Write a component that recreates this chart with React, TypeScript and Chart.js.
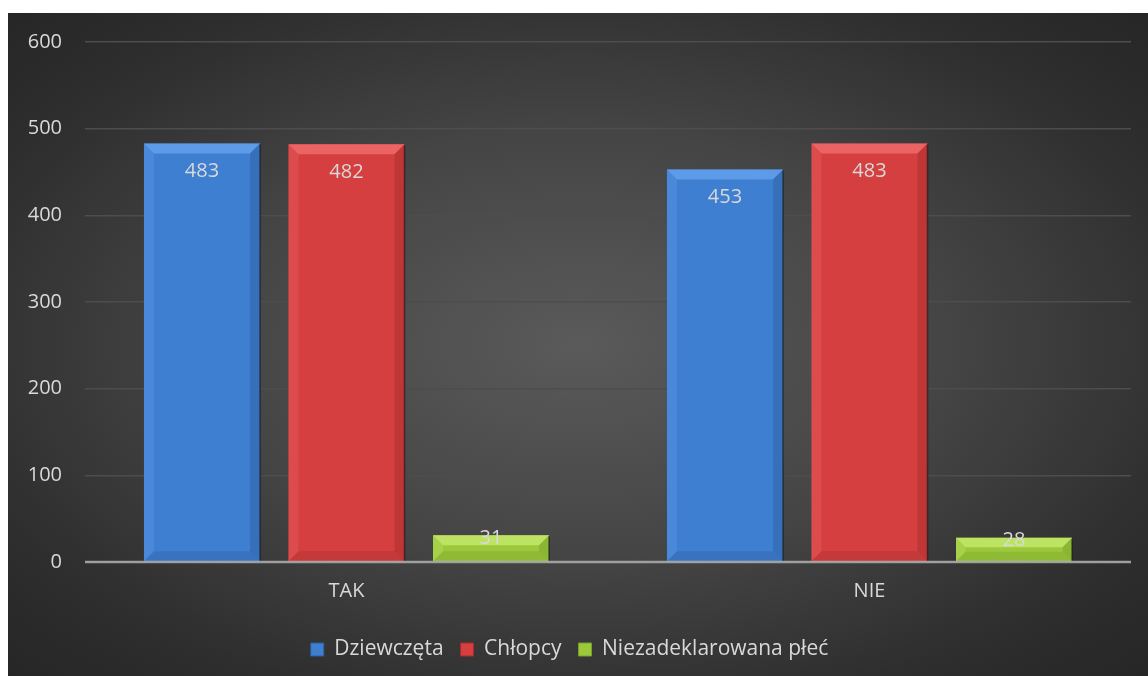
import React, { useEffect, useRef } from "react";
import { Chart, registerables } from "chart.js";

Chart.register(...registerables);

const categories = ["TAK", "NIE"];
const seriesNames = ["Dziewczęta", "Chłopcy", "Niezadeklarowana płeć"];
const dziewczeta = [483, 453];
const chlopcy = [482, 483];
const niezadeklarowana = [31, 28];
const yTicks = [0, 100, 200, 300, 400, 500, 600];

const baseColors = ["#3f7fd1", "#d63f3f", "#9cc83c"];
const lightColors = ["#63a0ec", "#f06a6a", "#c3e86a"];
const darkColors = ["#2d5f9e", "#a42d2d", "#78a02a"];

const FONT = "'Open Sans', sans-serif";
const TEXT = "#d9d9d9";

const bevelPlugin = {
  id: "bevel",
  afterDatasetsDraw(chart: any) {
    const ctx = chart.ctx;
    chart.data.datasets.forEach((ds: any, di: number) => {
      const meta = chart.getDatasetMeta(di);
      meta.data.forEach((bar: any, i: number) => {
        const { x, y, base, width } = bar.getProps(["x", "y", "base", "width"], true);
        const l = x - width / 2;
        const r = x + width / 2;
        const t = y;
        const b = base;
        const h = b - t;
        const bv = Math.min(10, h / 2.5);
        ctx.save();
        ctx.beginPath();
        ctx.moveTo(l, t);
        ctx.lineTo(r, t);
        ctx.lineTo(r - bv, t + bv);
        ctx.lineTo(l + bv, t + bv);
        ctx.closePath();
        ctx.fillStyle = lightColors[di];
        ctx.globalAlpha = 0.85;
        ctx.fill();
        ctx.beginPath();
        ctx.moveTo(l, t);
        ctx.lineTo(l + bv, t + bv);
        ctx.lineTo(l + bv, b - bv);
        ctx.lineTo(l, b);
        ctx.closePath();
        ctx.globalAlpha = 0.3;
        ctx.fill();
        ctx.beginPath();
        ctx.moveTo(r, t);
        ctx.lineTo(r - bv, t + bv);
        ctx.lineTo(r - bv, b - bv);
        ctx.lineTo(r, b);
        ctx.closePath();
        ctx.fillStyle = darkColors[di];
        ctx.globalAlpha = 0.45;
        ctx.fill();
        ctx.beginPath();
        ctx.moveTo(l, b);
        ctx.lineTo(l + bv, b - bv);
        ctx.lineTo(r - bv, b - bv);
        ctx.lineTo(r, b);
        ctx.closePath();
        ctx.globalAlpha = 0.35;
        ctx.fill();
        ctx.globalAlpha = 1;
        ctx.strokeStyle = "rgba(20,20,20,0.6)";
        ctx.lineWidth = 1.5;
        ctx.beginPath();
        ctx.moveTo(r, t + 1);
        ctx.lineTo(r, b);
        ctx.stroke();
        ctx.restore();

        const v = ds.data[i];
        ctx.save();
        ctx.font = `20px ${FONT}`;
        ctx.fillStyle = TEXT;
        ctx.textAlign = "center";
        ctx.textBaseline = "middle";
        const ly = h > 60 ? t + 28 : t + 3;
        ctx.fillText(String(v), x, ly);
        ctx.restore();
      });
    });
    const ys = chart.scales.y;
    const y0 = ys.getPixelForValue(0);
    ctx.save();
    ctx.strokeStyle = "rgba(190,190,190,0.75)";
    ctx.lineWidth = 2.5;
    ctx.beginPath();
    ctx.moveTo(chart.chartArea.left, y0);
    ctx.lineTo(chart.chartArea.right, y0);
    ctx.stroke();
    ctx.restore();
  },
};

export default function App() {
  const ref = useRef<HTMLCanvasElement | null>(null);
  useEffect(() => {
    if (!ref.current) return;
    const values = [dziewczeta, chlopcy, niezadeklarowana];
    const chart = new Chart(ref.current, {
      type: "bar",
      data: {
        labels: categories,
        datasets: values.map((d, di) => ({
          label: seriesNames[di],
          data: d,
          backgroundColor: baseColors[di],
          borderWidth: 0,
          categoryPercentage: 0.829,
          barPercentage: 0.803,
        })),
      },
      options: {
        animation: false,
        responsive: false,
        maintainAspectRatio: false,
        layout: { padding: { top: 29, right: 17, left: 0, bottom: 6 } },
        plugins: {
          tooltip: { enabled: false },
          legend: {
            position: "bottom",
            labels: {
              color: TEXT,
              font: { family: FONT, size: 21 },
              boxWidth: 13,
              boxHeight: 13,
              padding: 17,
              generateLabels: (ch: any) =>
                ch.data.datasets.map((ds: any, i: number) => ({
                  text: ds.label,
                  fillStyle: baseColors[i],
                  strokeStyle: darkColors[i],
                  lineWidth: 1,
                  fontColor: TEXT,
                  datasetIndex: i,
                  hidden: false,
                })),
            },
          },
        },
        scales: {
          x: {
            grid: { display: false, drawTicks: false },
            border: { display: false },
            ticks: { color: TEXT, font: { family: FONT, size: 20 }, padding: 17 },
            afterFit: (s: any) => {
              s.height = 60;
            },
          },
          y: {
            min: 0,
            max: 600,
            afterBuildTicks: (s: any) => {
              s.ticks = yTicks.map((v) => ({ value: v }));
            },
            grid: { color: "#4d4d4d", lineWidth: 1.5, drawTicks: false },
            border: { display: false },
            ticks: { color: TEXT, font: { family: FONT, size: 20 }, padding: 23 },
            afterFit: (s: any) => {
              s.width = 77;
              s.paddingTop = 0;
              s.paddingBottom = 0;
            },
          },
        },
      },
      plugins: [bevelPlugin],
    });
    return () => chart.destroy();
  }, []);
  return (
    <div
      style={{
        position: "absolute",
        left: 8,
        top: 13,
        width: 1140,
        height: 663,
        background:
          "radial-gradient(ellipse at 50% 50%, #5a5a5a 0%, #454545 45%, #2e2e2e 80%, #262626 100%)",
      }}
    >
      <canvas ref={ref} width={1140} height={663} style={{ display: "block" }} />
    </div>
  );
}
